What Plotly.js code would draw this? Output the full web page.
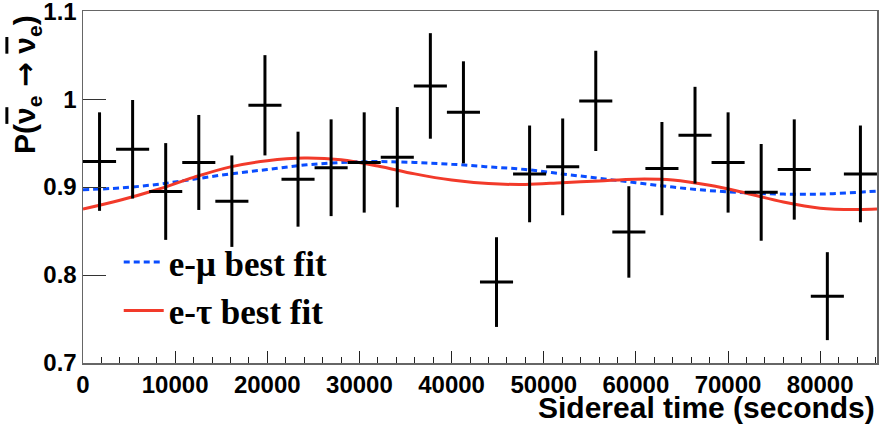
<!DOCTYPE html>
<html>
<head>
<meta charset="utf-8">
<script src="https://cdn.plot.ly/plotly-3.0.1.min.js"></script>
<style>html,body{margin:0;padding:0;background:#fff;}#chart{width:880px;height:425px;}</style>
</head>
<body>
<div id="chart"></div>
<script>
// Data points (binned, 24 bins over one sidereal day)
var binCenters = [1795, 5385, 8975, 12565, 16155, 19745, 23335, 26925, 30515, 34105, 37695, 41285,
                  44875, 48465, 52055, 55645, 59235, 62825, 66415, 70005, 73595, 77185, 80775, 84365];
var binHalfWidth = [1795, 1795, 1795, 1795, 1795, 1795, 1795, 1795, 1795, 1795, 1795, 1795,
                    1795, 1795, 1795, 1795, 1795, 1795, 1795, 1795, 1795, 1795, 1795, 1795];
var prob = [0.929, 0.943, 0.895, 0.928, 0.884, 0.993, 0.909, 0.922, 0.928, 0.934, 1.015, 0.985,
            0.792, 0.915, 0.923, 0.998, 0.849, 0.921, 0.959, 0.928, 0.894, 0.920, 0.776, 0.915];
var probErr = [0.056, 0.056, 0.055, 0.054, 0.052, 0.057, 0.054, 0.055, 0.057, 0.057, 0.060, 0.058,
               0.051, 0.055, 0.055, 0.057, 0.052, 0.053, 0.055, 0.057, 0.055, 0.057, 0.050, 0.055];

// Best-fit curves
var fitTime = [0, 4000, 8000, 12000, 16000, 20000, 24000, 28000, 32000, 36000, 40000, 44000,
               48000, 52000, 56000, 60000, 64000, 68000, 72000, 76000, 80000, 84000, 86164];
var fitEMu = [0.897, 0.899, 0.903, 0.909, 0.915, 0.920, 0.925, 0.928, 0.929, 0.928, 0.926, 0.923,
              0.920, 0.915, 0.910, 0.905, 0.900, 0.896, 0.8935, 0.892, 0.892, 0.894, 0.8955];
var fitETau = [0.875, 0.885, 0.897, 0.911, 0.923, 0.930, 0.933, 0.931, 0.924, 0.915, 0.908, 0.904,
               0.903, 0.905, 0.907, 0.909, 0.908, 0.902, 0.893, 0.883, 0.876, 0.8745, 0.875];

var xTickVals = [0, 10000, 20000, 30000, 40000, 50000, 60000, 70000, 80000];
var xTickText = ['0', '10000', '20000', '30000', '40000', '50000', '60000', '70000', '80000'];
var yTickVals = [0.7, 0.8, 0.9, 1.0, 1.1];
var yTickText = ['0.7', '0.8', '0.9', '1', '1.1'];

var traces = [
  {
    x: fitTime, y: fitEMu, type: 'scatter', mode: 'lines', name: 'e-\u03bc best fit',
    line: {color: '#0a4dff', width: 3, dash: '6px,4px', shape: 'spline'}
  },
  {
    x: fitTime, y: fitETau, type: 'scatter', mode: 'lines', name: 'e-\u03c4 best fit',
    line: {color: '#f23a2a', width: 3, shape: 'spline'}
  },
  {
    x: binCenters, y: prob, type: 'scatter', mode: 'markers', showlegend: false,
    marker: {size: 1, opacity: 0},
    error_y: {type: 'data', array: probErr, visible: true, color: '#000', thickness: 3, width: 0},
    error_x: {type: 'data', array: binHalfWidth, visible: true, color: '#000', thickness: 3, width: 0}
  }
];

var tickFont = {family: 'Liberation Sans, Arial, sans-serif', size: 24, color: '#000', weight: 'bold'};

var layout = {
  width: 880, height: 425,
  margin: {l: 83, r: 3, t: 11, b: 62},
  paper_bgcolor: '#fff', plot_bgcolor: '#fff',
  showlegend: true,
  legend: {
    x: 0.045, y: 0.37, xanchor: 'left', yanchor: 'top',
    bgcolor: 'rgba(0,0,0,0)', borderwidth: 0, itemwidth: 40,
    font: {family: 'Liberation Serif, Times New Roman, serif', size: 35, color: '#000', weight: 'bold'}
  },
  xaxis: {
    range: [0, 86164], showgrid: false, zeroline: false,
    tickvals: xTickVals, ticktext: xTickText, ticks: 'inside', ticklen: 12, tickwidth: 1, tickcolor: '#222',
    minor: {dtick: 2000, tick0: 0, ticks: 'inside', ticklen: 6, tickcolor: '#222', tickwidth: 1, showgrid: false},
    showline: true, linecolor: '#666', linewidth: 1.5, mirror: true,
    tickfont: tickFont, ticklabeloverflow: 'allow'
  },
  yaxis: {
    range: [0.7, 1.1002], showgrid: false, zeroline: false,
    tickvals: yTickVals, ticktext: yTickText, ticks: 'inside', ticklen: 23, tickwidth: 1, tickcolor: '#333',
    showline: true, linecolor: '#666', linewidth: 1.5, mirror: true,
    tickfont: tickFont, ticklabeloverflow: 'allow'
  },
  annotations: [
    {
      xref: 'paper', yref: 'paper', x: 1.0, y: -0.125, xanchor: 'right', yanchor: 'middle',
      text: 'Sidereal time (seconds)', showarrow: false,
      font: {family: 'Liberation Sans, Arial, sans-serif', size: 30, color: '#000', weight: 'bold'}
    },
    {
      xref: 'paper', yref: 'paper', x: -0.071, y: 0.995, xanchor: 'center', yanchor: 'top',
      textangle: -90,
      text: 'P(<span style="text-decoration:overline">\u03bd</span><sub>e</sub> <span style="font-family:DejaVu Sans">\u2192</span> <span style="text-decoration:overline">\u03bd</span><sub>e</sub>)',
      showarrow: false,
      font: {family: 'Liberation Sans, Arial, sans-serif', size: 30, color: '#000', weight: 'bold'}
    }
  ]
};

Plotly.newPlot('chart', traces, layout, {displayModeBar: false, staticPlot: true});
</script>
</body>
</html>
